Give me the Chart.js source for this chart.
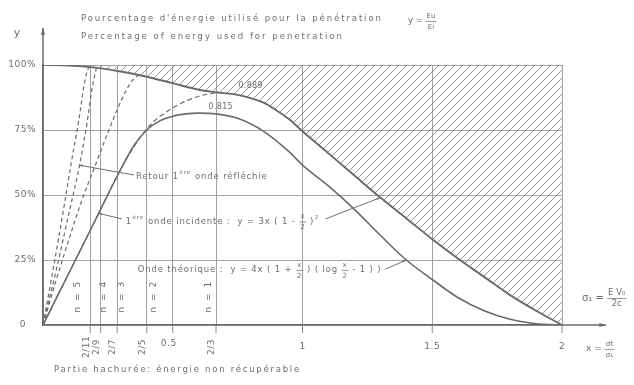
<!DOCTYPE html>
<html>
<head>
<meta charset="utf-8">
<script src="https://cdn.jsdelivr.net/npm/chart.js@4.4.1/dist/chart.umd.min.js"></script>
<style>
  html, body { margin: 0; background: #fff; }
  #chart { display: block; }
</style>
</head>
<body>
<canvas id="chart" width="634" height="385"></canvas>
<script>
// ticks
const xTicks = [2 / 11, 2 / 9, 2 / 7, 2 / 5, 0.5, 2 / 3, 1, 1.5, 2];
const xTickLabels = ["2/11", "2/9", "2/7", "2/5", "0.5", "2/3", "1", "1.5", "2"];
const yTicks = [0, 0.25, 0.5, 0.75, 1];
const yTickLabels = ["0", "25%", "50%", "75%", "100%"];

// upper limit (boundary of the hatched part)
const upperX = [0, 0.1, 0.2, 0.3, 0.4, 0.5, 0.6, 0.667, 0.75, 0.85, 0.9, 0.95, 1.0, 1.1, 1.2, 1.3, 1.4, 1.5, 1.6, 1.7, 1.8, 1.9, 2.0];
const upperY = [1.0, 0.998, 0.99, 0.975, 0.955, 0.93, 0.905, 0.895, 0.885, 0.855, 0.825, 0.79, 0.745, 0.66, 0.575, 0.49, 0.41, 0.33, 0.255, 0.185, 0.115, 0.055, 0];

// onde théorique
const theoX = [0, 0.1, 0.2, 0.3, 0.35, 0.4, 0.45, 0.5, 0.55, 0.6, 0.667, 0.75, 0.85, 0.95, 1.0, 1.1, 1.2, 1.3, 1.4, 1.5, 1.6, 1.7, 1.8, 1.9, 2.0];
const theoY = [0, 0.2, 0.4, 0.6, 0.69, 0.75, 0.785, 0.803, 0.812, 0.815, 0.812, 0.795, 0.745, 0.665, 0.615, 0.535, 0.445, 0.345, 0.25, 0.175, 0.105, 0.055, 0.022, 0.005, 0];

// 1ère onde incidente
const incX = [0, 0.1, 0.2, 0.3, 0.4, 0.5, 0.6, 0.667];
const incY = [0, 0.2, 0.4, 0.6, 0.755, 0.835, 0.88, 0.893];

// retour 1ère onde réfléchie
const retAX = [0, 0.04, 0.08, 0.11, 0.14, 0.157, 0.17, 0.18];
const retAY = [0, 0.22, 0.45, 0.63, 0.8, 0.915, 0.975, 0.998];
const retBX = [0, 0.053, 0.1, 0.144, 0.17, 0.19, 0.205];
const retBY = [0, 0.22, 0.43, 0.63, 0.78, 0.915, 0.985];
const retCX = [0, 0.05, 0.1, 0.15, 0.2, 0.25, 0.3, 0.34, 0.375];
const retCY = [0, 0.17, 0.33, 0.48, 0.61, 0.74, 0.86, 0.935, 0.965];

// n = 2/(2n+1) columns
const nLabels = ["n = 5", "n = 4", "n = 3", "n = 2", "n = 1"];
const nLabelX = [0.135, 0.235, 0.305, 0.425, 0.64];

const ink = "#6a6a6a";
const textInk = "#6e6e6e";
const font = "'DejaVu Sans', sans-serif";

function pts(xs, ys) {
  return xs.map((x, i) => ({ x: x, y: ys[i] }));
}

// hatch pattern
const tile = document.createElement("canvas");
tile.width = 8; tile.height = 8;
const tc = tile.getContext("2d");
tc.strokeStyle = "#8c8c8c";
tc.lineWidth = 0.9;
tc.beginPath();
tc.moveTo(0, 8); tc.lineTo(8, 0);
tc.moveTo(-2, 2); tc.lineTo(2, -2);
tc.moveTo(6, 10); tc.lineTo(10, 6);
tc.stroke();
const hatch = tc.createPattern(tile, "repeat");

function line(ctx, x1, y1, x2, y2) {
  ctx.beginPath();
  ctx.moveTo(x1, y1);
  ctx.lineTo(x2, y2);
  ctx.stroke();
}

function arrowTo(ctx, x1, y1, x2, y2, size) {
  line(ctx, x1, y1, x2, y2);
  const a = Math.atan2(y2 - y1, x2 - x1);
  ctx.beginPath();
  ctx.moveTo(x2, y2);
  ctx.lineTo(x2 - size * Math.cos(a - 0.3), y2 - size * Math.sin(a - 0.3));
  ctx.lineTo(x2 - size * Math.cos(a + 0.3), y2 - size * Math.sin(a + 0.3));
  ctx.closePath();
  ctx.fill();
}

// draws text pieces one after the other: strings, {sup}, {frac:[num, den]}
function runs(ctx, parts, x, y, size) {
  ctx.textAlign = "left";
  ctx.textBaseline = "middle";
  parts.forEach(p => {
    if (typeof p === "string") {
      ctx.font = size + "px " + font;
      ctx.fillText(p, x, y);
      x += ctx.measureText(p).width;
    } else if (p.sup) {
      ctx.font = (size - 3) + "px " + font;
      ctx.fillText(p.sup, x + 0.5, y - 4);
      x += ctx.measureText(p.sup).width + 1;
    } else if (p.frac) {
      ctx.font = (size - 1.5) + "px " + font;
      const w = Math.max(ctx.measureText(p.frac[0]).width, ctx.measureText(p.frac[1]).width) + 2;
      ctx.textAlign = "center";
      ctx.fillText(p.frac[0], x + w / 2, y - 5);
      ctx.fillText(p.frac[1], x + w / 2, y + 6);
      ctx.textAlign = "left";
      ctx.lineWidth = 0.7;
      line(ctx, x, y + 0.5, x + w, y + 0.5);
      x += w;
    }
  });
  return x;
}

const labelsPlugin = {
  id: "labels",
  afterDraw(chart) {
    const ctx = chart.ctx;
    const xs = chart.scales.x, ys = chart.scales.y;
    const X = v => xs.getPixelForValue(v), Y = v => ys.getPixelForValue(v);
    const area = chart.chartArea;
    ctx.save();
    ctx.strokeStyle = ink;
    ctx.fillStyle = ink;

    // axes with arrows
    ctx.lineWidth = 1.5;
    arrowTo(ctx, X(0), Y(0), X(0), area.top - 37, 7);
    arrowTo(ctx, X(2), Y(0), area.right + 44, Y(0), 7);

    // tick marks under the axis
    ctx.lineWidth = 1;
    ctx.strokeStyle = "#8a8a8a";
    xTicks.forEach(v => line(ctx, X(v), Y(0), X(v), Y(0) + 8));

    ctx.fillStyle = textInk;
    ctx.strokeStyle = textInk;
    ctx.letterSpacing = "0.5px";

    // y labels
    ctx.font = "9px " + font;
    ctx.textAlign = "right";
    ctx.textBaseline = "middle";
    yTicks.forEach((v, i) => ctx.fillText(yTickLabels[i], X(0) - 7 - (v === 0 ? 10 : 0), Y(v)));

    // x labels
    xTickLabels.forEach((t, i) => {
      const px = X(xTicks[i]);
      if (t.indexOf("/") > 0) {
        ctx.save();
        ctx.translate(px - 4, Y(0) + 22);
        ctx.rotate(-Math.PI / 2);
        ctx.textAlign = "center";
        ctx.fillText(t, 0, 0);
        ctx.restore();
      } else {
        ctx.textAlign = "center";
        ctx.fillText(t, px - (t === "0.5" ? 4 : 0), Y(0) + (t === "0.5" ? 19 : 22));
      }
    });

    // n = ... columns
    ctx.letterSpacing = "1.5px";
    nLabels.forEach((t, i) => {
      ctx.save();
      ctx.translate(X(nLabelX[i]), Y(0.11));
      ctx.rotate(-Math.PI / 2);
      ctx.textAlign = "center";
      ctx.fillText(t, 0, 0);
      ctx.restore();
    });

    // y axis name and title
    ctx.letterSpacing = "0px";
    ctx.font = "11px " + font;
    ctx.textAlign = "center";
    ctx.fillText("y", 17, 33);
    ctx.letterSpacing = "1.9px";
    ctx.font = "8.5px " + font;
    ctx.textAlign = "left";
    ctx.fillText("Pourcentage d'énergie utilisé pour la pénétration", 81, 19);
    ctx.letterSpacing = "2px";
    ctx.fillText("Percentage of energy used for penetration", 81, 37);
    ctx.letterSpacing = "0px";
    runs(ctx, ["y = ", { frac: ["Eu", "Ei"] }], 408, 21, 8.5);

    // curve annotations
    ctx.letterSpacing = "0.85px";
    ctx.lineWidth = 1;
    arrowTo(ctx, X(0.35), Y(0.577), X(0.138), Y(0.615), 4);
    runs(ctx, ["Retour 1", { sup: "ère" }, " onde réfléchie"], X(0.358), Y(0.569), 8.5);

    arrowTo(ctx, X(0.304), Y(0.408), X(0.212), Y(0.43), 4);
    let end = runs(ctx, ["1", { sup: "ère" }, " onde incidente :  y = 3x ( 1 - ", { frac: ["x", "2"] }, " )", { sup: "2" }], X(0.319), Y(0.398), 8.5);
    ctx.lineWidth = 1;
    arrowTo(ctx, end + 6, Y(0.408), X(1.30), Y(0.49), 4);

    end = runs(ctx, ["Onde théorique :  y = 4x ( 1 + ", { frac: ["x", "2"] }, " ) ( log ", { frac: ["x", "2"] }, " - 1 ) )"], X(0.365), Y(0.212), 8.5);
    ctx.lineWidth = 1;
    arrowTo(ctx, end + 4, Y(0.215), X(1.40), Y(0.25), 4);

    ctx.letterSpacing = "0.3px";
    ctx.font = "8px " + font;
    ctx.textAlign = "center";
    ctx.fillText("0.889", X(0.8), Y(0.919));
    ctx.fillText("0.815", X(0.685), Y(0.838));

    // axis definitions on the right
    ctx.letterSpacing = "0px";
    runs(ctx, ["σ\u2081 = ", { frac: ["E V\u2080", "2c"] }], area.right + 20, Y(0) - 27, 10);
    runs(ctx, ["x = ", { frac: ["σt", "σ\u2081"] }], area.right + 24, Y(0) + 24, 9);

    // footnote
    ctx.letterSpacing = "1.75px";
    ctx.font = "8.5px " + font;
    ctx.textAlign = "left";
    ctx.fillText("Partie hachurée: énergie non récupérable", 54, 370);
    ctx.restore();
  }
};

const curve = (data, opts) => Object.assign({
  data: data,
  borderColor: ink,
  borderWidth: 1.2,
  pointRadius: 0,
  fill: false,
  cubicInterpolationMode: "monotone"
}, opts);

new Chart(document.getElementById("chart"), {
  type: "line",
  data: {
    datasets: [
      curve(pts(upperX, upperY), { label: "upper", borderWidth: 1.9, fill: "end", backgroundColor: hatch }),
      curve(pts(theoX, theoY), { label: "Onde théorique", borderWidth: 1.6 }),
      curve(pts(incX, incY), { label: "1ère onde incidente", borderDash: [5, 3] }),
      curve(pts(retAX, retAY), { label: "Retour A", borderDash: [4, 3] }),
      curve(pts(retBX, retBY), { label: "Retour B", borderDash: [4, 3] }),
      curve(pts(retCX, retCY), { label: "Retour C", borderDash: [4, 3] })
    ]
  },
  options: {
    responsive: false,
    animation: false,
    layout: { padding: { left: 43, right: 72, top: 65, bottom: 60 } },
    plugins: { legend: { display: false }, tooltip: { enabled: false } },
    scales: {
      x: {
        type: "linear",
        min: 0,
        max: 2,
        afterBuildTicks: s => { s.ticks = xTicks.map(v => ({ value: v })); },
        afterFit: s => { s.height = 0; },
        ticks: { display: false },
        grid: { color: "#a2a2a2", lineWidth: 1, drawTicks: false },
        border: { color: ink, width: 1.6 }
      },
      y: {
        min: 0,
        max: 1,
        afterBuildTicks: s => { s.ticks = yTicks.map(v => ({ value: v })); },
        afterFit: s => { s.width = 0; },
        ticks: { display: false },
        grid: { color: "#a2a2a2", lineWidth: 1, drawTicks: false },
        border: { color: ink, width: 1.6 }
      }
    }
  },
  plugins: [labelsPlugin]
});
</script>
</body>
</html>
